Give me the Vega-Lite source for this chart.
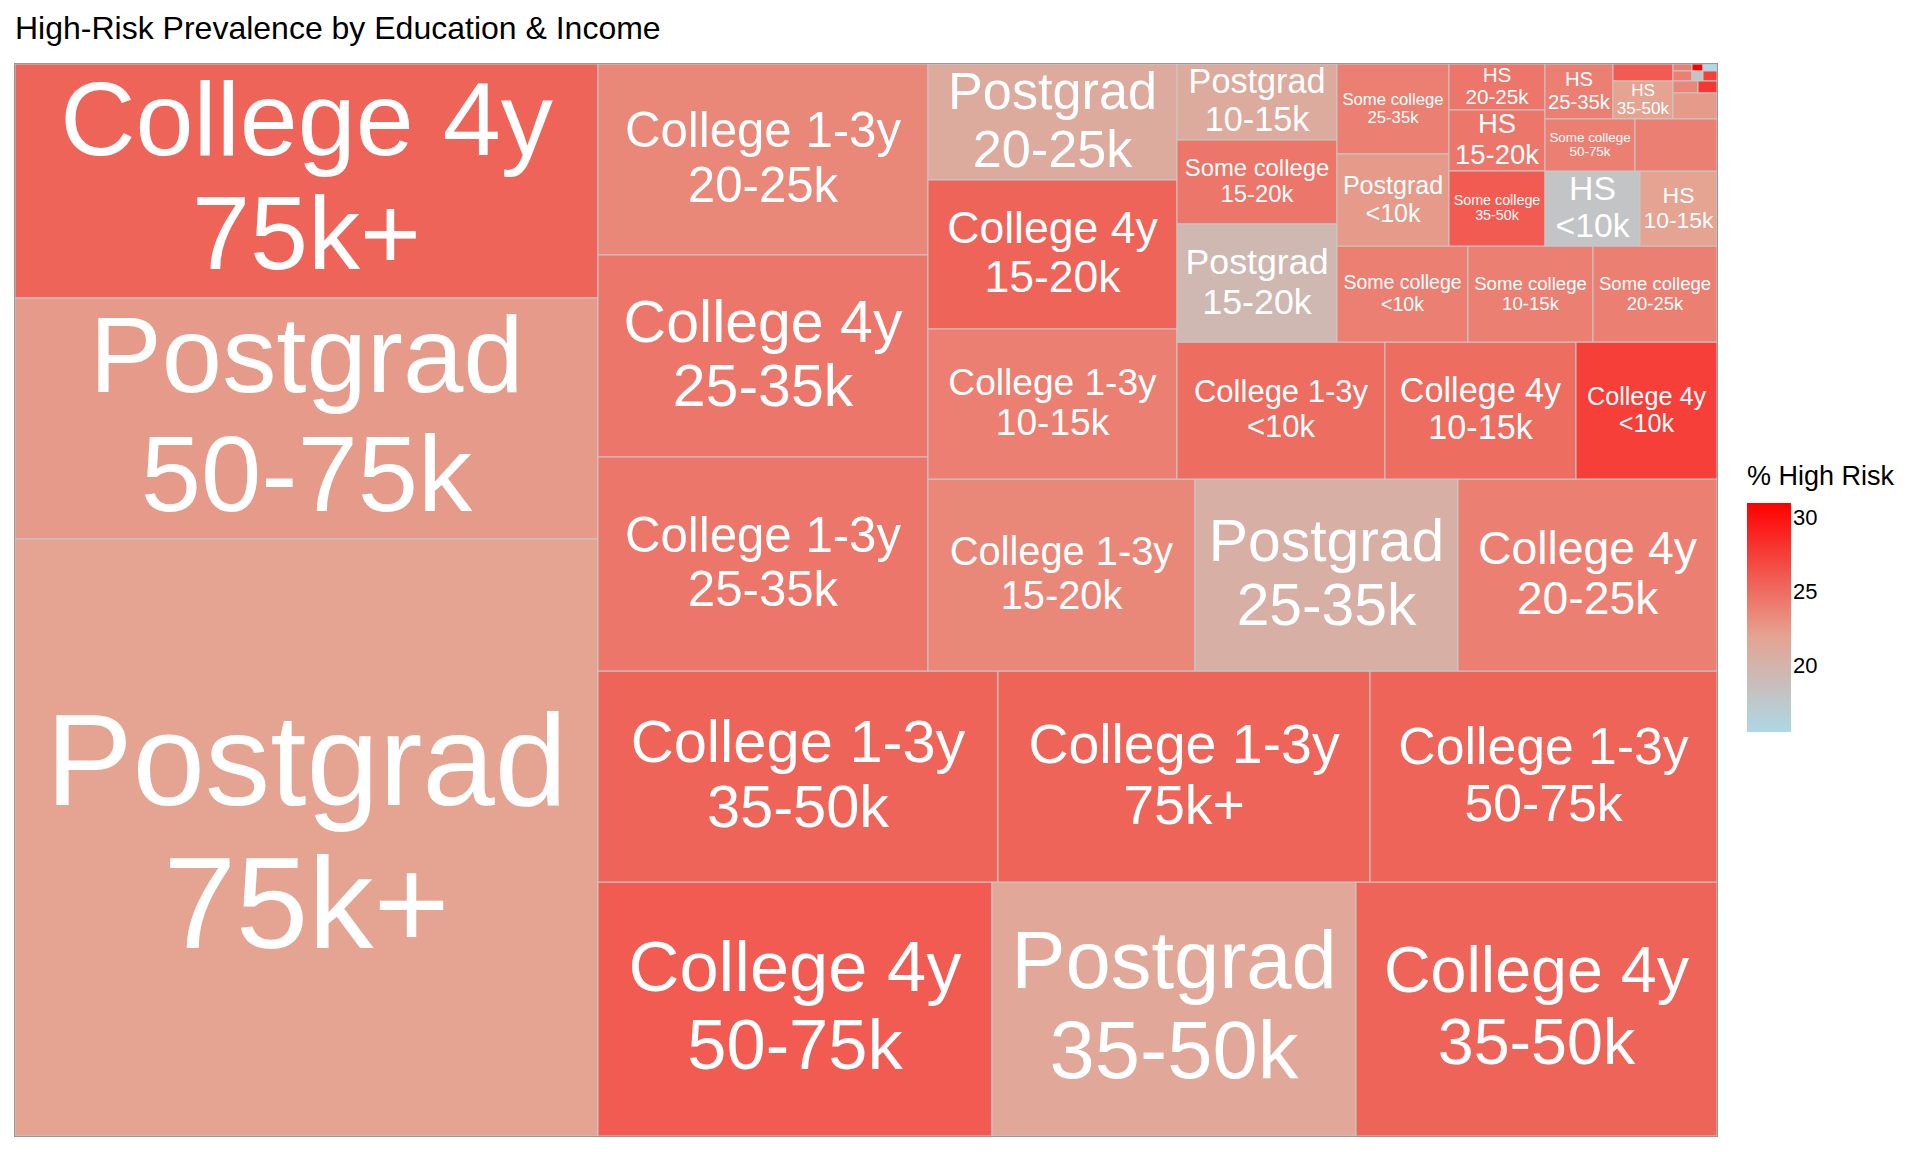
{
  "$schema": "https://vega.github.io/schema/vega-lite/v6.json",
  "width": 1702,
  "height": 1072,
  "autosize": {"type": "none"},
  "padding": {"left": 15, "top": 64, "right": 203, "bottom": 16},
  "background": "white",
  "title": {"text": "High-Risk Prevalence by Education & Income", "anchor": "start", "frame": "group", "fontSize": 32, "fontWeight": "normal", "font": "Liberation Sans", "color": "black", "offset": 18},
  "data": {
    "values": [
      {"edu": "College 4y", "inc": "75k+", "x": 15, "x2": 598, "y": 64, "y2": 298, "v": 25.5},
      {"edu": "Postgrad", "inc": "50-75k", "x": 15, "x2": 598, "y": 298, "y2": 539, "v": 22.5},
      {"edu": "Postgrad", "inc": "75k+", "x": 15, "x2": 598, "y": 539, "y2": 1136, "v": 22},
      {"edu": "College 4y", "inc": "50-75k", "x": 598, "x2": 992, "y": 882, "y2": 1136, "v": 26},
      {"edu": "Postgrad", "inc": "35-50k", "x": 992, "x2": 1356, "y": 882, "y2": 1136, "v": 21.5},
      {"edu": "College 4y", "inc": "35-50k", "x": 1356, "x2": 1717, "y": 882, "y2": 1136, "v": 25.5},
      {"edu": "College 1-3y", "inc": "35-50k", "x": 598, "x2": 998, "y": 671, "y2": 882, "v": 25.5},
      {"edu": "College 1-3y", "inc": "75k+", "x": 998, "x2": 1370, "y": 671, "y2": 882, "v": 25.5},
      {"edu": "College 1-3y", "inc": "50-75k", "x": 1370, "x2": 1717, "y": 671, "y2": 882, "v": 25.5},
      {"edu": "College 1-3y", "inc": "20-25k", "x": 598, "x2": 928, "y": 64, "y2": 255, "v": 23.5},
      {"edu": "College 4y", "inc": "25-35k", "x": 598, "x2": 928, "y": 255, "y2": 457, "v": 24.5},
      {"edu": "College 1-3y", "inc": "25-35k", "x": 598, "x2": 928, "y": 457, "y2": 671, "v": 24.5},
      {"edu": "College 1-3y", "inc": "15-20k", "x": 928, "x2": 1195, "y": 479, "y2": 671, "v": 23.5},
      {"edu": "Postgrad", "inc": "25-35k", "x": 1195, "x2": 1458, "y": 479, "y2": 671, "v": 20.5},
      {"edu": "College 4y", "inc": "20-25k", "x": 1458, "x2": 1717, "y": 479, "y2": 671, "v": 24},
      {"edu": "Postgrad", "inc": "20-25k", "x": 928, "x2": 1177, "y": 64, "y2": 180, "v": 21},
      {"edu": "College 4y", "inc": "15-20k", "x": 928, "x2": 1177, "y": 180, "y2": 329, "v": 25.5},
      {"edu": "College 1-3y", "inc": "10-15k", "x": 928, "x2": 1177, "y": 329, "y2": 479, "v": 24},
      {"edu": "College 1-3y", "inc": "<10k", "x": 1177, "x2": 1385, "y": 342, "y2": 479, "v": 25},
      {"edu": "College 4y", "inc": "10-15k", "x": 1385, "x2": 1576, "y": 342, "y2": 479, "v": 25},
      {"edu": "College 4y", "inc": "<10k", "x": 1576, "x2": 1717, "y": 342, "y2": 479, "v": 27.5},
      {"edu": "Postgrad", "inc": "10-15k", "x": 1177, "x2": 1337, "y": 64, "y2": 140, "v": 21},
      {"edu": "Some college", "inc": "15-20k", "x": 1177, "x2": 1337, "y": 140, "y2": 224, "v": 24.5},
      {"edu": "Postgrad", "inc": "15-20k", "x": 1177, "x2": 1337, "y": 224, "y2": 342, "v": 19.5},
      {"edu": "Some college", "inc": "<10k", "x": 1337, "x2": 1468, "y": 246, "y2": 342, "v": 24},
      {"edu": "Some college", "inc": "10-15k", "x": 1468, "x2": 1593, "y": 246, "y2": 342, "v": 24},
      {"edu": "Some college", "inc": "20-25k", "x": 1593, "x2": 1717, "y": 246, "y2": 342, "v": 24},
      {"edu": "Some college", "inc": "25-35k", "x": 1337, "x2": 1449, "y": 64, "y2": 154, "v": 24},
      {"edu": "Postgrad", "inc": "<10k", "x": 1337, "x2": 1449, "y": 154, "y2": 246, "v": 22.5},
      {"edu": "HS", "inc": "20-25k", "x": 1449, "x2": 1545, "y": 64, "y2": 110, "v": 24.5},
      {"edu": "HS", "inc": "15-20k", "x": 1449, "x2": 1545, "y": 110, "y2": 171, "v": 24.5},
      {"edu": "Some college", "inc": "35-50k", "x": 1449, "x2": 1545, "y": 171, "y2": 246, "v": 26},
      {"edu": "HS", "inc": "<10k", "x": 1545, "x2": 1640, "y": 171, "y2": 246, "v": 18},
      {"edu": "HS", "inc": "10-15k", "x": 1640, "x2": 1717, "y": 171, "y2": 246, "v": 22},
      {"edu": "HS", "inc": "25-35k", "x": 1545, "x2": 1613, "y": 64, "y2": 119, "v": 24},
      {"edu": "Did not graduate HS", "inc": "75k+", "x": 1613, "x2": 1673, "y": 64, "y2": 81, "v": 26},
      {"edu": "HS", "inc": "35-50k", "x": 1613, "x2": 1673, "y": 81, "y2": 119, "v": 22},
      {"edu": "Did not graduate HS", "inc": "<10k", "x": 1673, "x2": 1692, "y": 64, "y2": 71, "v": 24},
      {"edu": "Did not graduate HS", "inc": "10-15k", "x": 1692, "x2": 1703, "y": 64, "y2": 71, "v": 31},
      {"edu": "Did not graduate HS", "inc": "15-20k", "x": 1703, "x2": 1717, "y": 64, "y2": 71, "v": 15.5},
      {"edu": "Did not graduate HS", "inc": "20-25k", "x": 1673, "x2": 1692, "y": 71, "y2": 81, "v": 24},
      {"edu": "Did not graduate HS", "inc": "25-35k", "x": 1692, "x2": 1703, "y": 71, "y2": 81, "v": 18},
      {"edu": "Did not graduate HS", "inc": "35-50k", "x": 1703, "x2": 1717, "y": 71, "y2": 81, "v": 27.5},
      {"edu": "Did not graduate HS", "inc": "50-75k", "x": 1673, "x2": 1698, "y": 81, "y2": 93, "v": 23.5},
      {"edu": "HS", "inc": "75k+", "x": 1698, "x2": 1717, "y": 81, "y2": 93, "v": 28},
      {"edu": "HS", "inc": "50-75k (no label)", "x": 1673, "x2": 1717, "y": 93, "y2": 119, "v": 22.5},
      {"edu": "Some college", "inc": "50-75k", "x": 1545, "x2": 1635, "y": 119, "y2": 171, "v": 24},
      {"edu": "Some college or technical", "inc": "75k+", "x": 1635, "x2": 1717, "y": 119, "y2": 171, "v": 24}
    ]
  },
  "transform": [
    {"calculate": "(datum.x + datum.x2) / 2", "as": "cx"},
    {"calculate": "(datum.y + datum.y2) / 2", "as": "cy"},
    {"calculate": "min(0.93 * (datum.x2 - datum.x) / (max(length(datum.edu), length(datum.inc)) * 0.52), 0.45 * (datum.y2 - datum.y))", "as": "fs"},
    {"calculate": "datum.cy - datum.fs * 0.55", "as": "ly1"},
    {"calculate": "datum.cy + datum.fs * 0.55", "as": "ly2"}
  ],
  "encoding": {
    "x": {"type": "quantitative", "scale": {"domain": [15, 1717], "nice": false, "zero": false}, "axis": null},
    "y": {"type": "quantitative", "scale": {"domain": [64, 1136], "nice": false, "zero": false, "reverse": true}, "axis": null}
  },
  "layer": [
    {
      "mark": {"type": "rect", "stroke": "#c8c8c8", "strokeWidth": 1},
      "encoding": {
        "x": {"field": "x", "type": "quantitative"},
        "x2": {"field": "x2"},
        "y": {"field": "y", "type": "quantitative"},
        "y2": {"field": "y2"},
        "color": {
          "field": "v", "type": "quantitative", "title": "% High Risk",
          "scale": {"domain": [15.5, 22, 31], "range": ["#ADD8E6", "#E5A391", "#FF0000"], "interpolate": "rgb"},
          "legend": {
            "orient": "none", "legendX": 1732, "legendY": 400, "values": [20, 25, 30],
            "gradientLength": 229, "gradientThickness": 44, "gradientStrokeWidth": 0,
            "titleFontSize": 27, "titleFont": "Liberation Sans", "titleFontWeight": "normal", "titleColor": "black", "titlePadding": 12,
            "labelFontSize": 22, "labelFont": "Liberation Sans", "labelColor": "black", "tickCount": 3
          }
        }
      }
    },
    {
      "transform": [{"filter": "datum.fs >= 9"}],
      "mark": {"type": "text", "color": "white", "font": "Liberation Sans", "baseline": "middle", "align": "center"},
      "encoding": {
        "x": {"field": "cx", "type": "quantitative"},
        "y": {"field": "ly1", "type": "quantitative"},
        "text": {"field": "edu"},
        "size": {"field": "fs", "type": "quantitative", "scale": null, "legend": null}
      }
    },
    {
      "transform": [{"filter": "datum.fs >= 9"}],
      "mark": {"type": "text", "color": "white", "font": "Liberation Sans", "baseline": "middle", "align": "center"},
      "encoding": {
        "x": {"field": "cx", "type": "quantitative"},
        "y": {"field": "ly2", "type": "quantitative"},
        "text": {"field": "inc"},
        "size": {"field": "fs", "type": "quantitative", "scale": null, "legend": null}
      }
    }
  ],
  "config": {"view": {"stroke": "#333333", "strokeWidth": 1.5}}
}
